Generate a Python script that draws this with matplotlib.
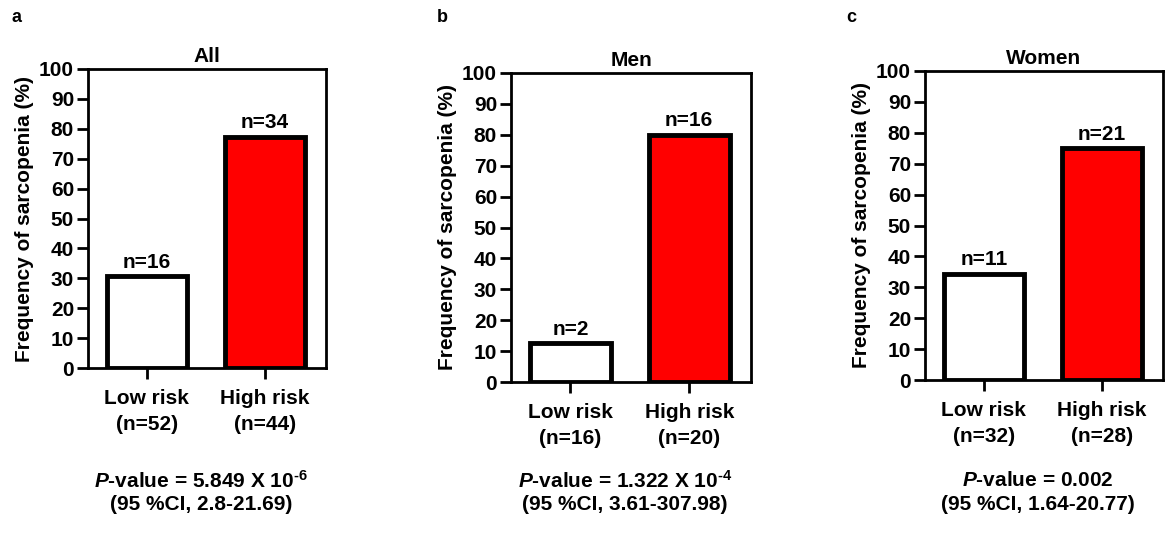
import matplotlib
matplotlib.use("Agg")
import matplotlib.pyplot as plt

plt.rcParams['font.family'] = ['Liberation Sans', 'DejaVu Sans']
plt.rcParams['font.weight'] = 'bold'
plt.rcParams['mathtext.fontset'] = 'custom'
plt.rcParams['mathtext.rm'] = 'Liberation Sans:bold'
plt.rcParams['mathtext.bf'] = 'Liberation Sans:bold'
plt.rcParams['mathtext.it'] = 'Liberation Sans:italic:bold'

# data
groups = ["All", "Men", "Women"]
letters = ["a", "b", "c"]
risk = ["Low risk", "High risk"]
cases = [[16, 34], [2, 16], [11, 21]]
totals = [[52, 44], [16, 20], [32, 28]]
pvals = ["5.849 X 10$^{\\text{-6}}$", "1.322 X 10$^{\\text{-4}}$", "0.002"]
cis = ["2.8-21.69", "3.61-307.98", "1.64-20.77"]
colors = ["white", "#ff0000"]

W, H = 1167, 539
fs = 15
fig = plt.figure(figsize=(W / 100, H / 100), dpi=100)

# axes boxes in pixels: left, top, width, height
boxes = [(88, 69, 238, 299), (511, 73, 240, 309), (925, 71, 238, 309)]
letter_x = [12, 437, 846]

for i, g in enumerate(groups):
    l, t, w, h = boxes[i]
    ax = fig.add_axes([l / W, 1 - (t + h) / H, w / W, h / H])
    freq = [100 * c / n for c, n in zip(cases[i], totals[i])]
    xs = [0, 1]
    ax.bar(xs, freq, width=0.68, color=colors, edgecolor="black", linewidth=3.5, zorder=3)
    for x, f, c in zip(xs, freq, cases[i]):
        ax.text(x, f + 1.5, f"n={c}", ha="center", va="bottom", fontsize=fs, fontweight="bold")
    ax.set_xlim(-0.5, 1.52)
    ax.set_ylim(0, 100)
    ax.set_yticks(range(0, 101, 10))
    ax.set_xticks(xs)
    ax.set_xticklabels([f"{r}\n(n={n})" for r, n in zip(risk, totals[i])], linespacing=1.5)
    ax.tick_params(axis="both", labelsize=fs, width=2, length=8, direction="out")
    ax.tick_params(axis="x", pad=7)
    ax.tick_params(axis="y", pad=2)
    for s in ax.spines.values():
        s.set_linewidth(2)
    ax.set_ylabel("Frequency of sarcopenia (%)", fontsize=fs, fontweight="bold", labelpad=4)
    ax.set_title(g, fontsize=fs, fontweight="bold", pad=5)
    fig.text(letter_x[i] / W, 1 - 17 / H, letters[i], fontsize=13, fontweight="bold", ha="left", va="center")
    cx = (l + w / 2 - 6) / W
    fig.text(cx, 1 - 481 / H, "$\\mathit{P}$-value = " + pvals[i], fontsize=fs, fontweight="bold",
             ha="center", va="center")
    fig.text(cx, 1 - 504 / H, f"(95 %CI, {cis[i]})", fontsize=fs, fontweight="bold",
             ha="center", va="center")

fig.savefig("out.png", dpi=100)
